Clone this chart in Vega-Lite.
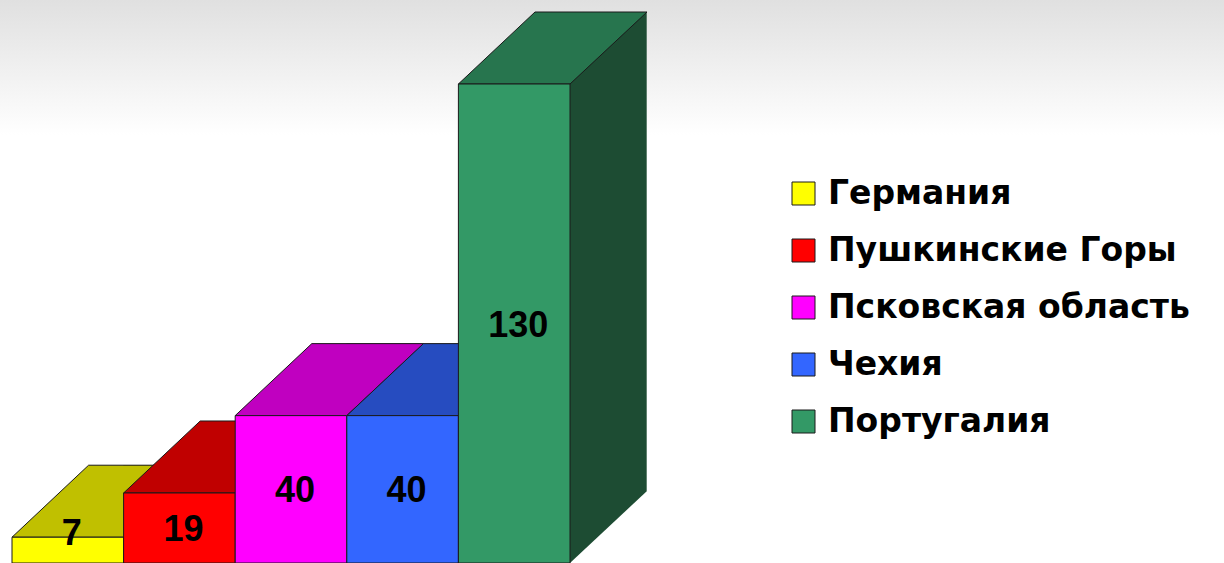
{
  "$schema": "https://vega.github.io/schema/vega-lite/v6.json",
  "width": 1224,
  "height": 563,
  "padding": 0,
  "autosize": {"type": "none"},
  "background": "white",
  "config": {"view": {"stroke": null}},
  "datasets": {
    "bars": [
      {"country": "Германия", "value": 7},
      {"country": "Пушкинские Горы", "value": 19},
      {"country": "Псковская область", "value": 40},
      {"country": "Чехия", "value": 40},
      {"country": "Португалия", "value": 130}
    ]
  },
  "data": {"name": "bars"},
  "resolve": {"scale": {"color": "independent"}},
  "layer": [
    {
      "data": {"values": [{}]},
      "mark": {
        "type": "rect",
        "color": {
          "gradient": "linear", "x1": 0, "y1": 0, "x2": 0, "y2": 1,
          "stops": [
            {"offset": 0, "color": "#e0e0e0"},
            {"offset": 0.24, "color": "#ffffff"},
            {"offset": 1, "color": "#ffffff"}
          ]
        }
      },
      "encoding": {}
    },
    {
      "mark": {"type": "bar", "width": 77, "xOffset": 94, "yOffset": -72, "y2Offset": -72},
      "encoding": {
        "x": {"field": "country", "type": "nominal", "sort": null, "scale": {"range": [12, 570], "paddingInner": 0, "paddingOuter": 0}, "axis": null},
        "y": {"field": "value", "type": "quantitative", "scale": {"domain": [0, 152.8], "nice": false}, "axis": null},
        "y2": {"datum": 0},
        "color": {"field": "country", "type": "nominal", "scale": {"domain": ["Германия", "Пушкинские Горы", "Псковская область", "Чехия", "Португалия"], "range": ["#808000", "#800000", "#800080", "#1A3380", "#1D4C33"]}, "legend": null}
      }
    },
    {
      "mark": {"type": "point", "filled": true, "opacity": 1, "size": 40000, "shape": "M0.558,-0.72 L0.558,0 L1.328,-0.72 Z", "strokeWidth": 0},
      "encoding": {
        "x": {"field": "country", "type": "nominal", "sort": null, "scale": {"range": [12, 570], "paddingInner": 0, "paddingOuter": 0}, "axis": null},
        "y": {"datum": 0, "type": "quantitative", "scale": {"domain": [0, 152.8], "nice": false}, "axis": null},
        "color": {"field": "country", "type": "nominal", "scale": {"domain": ["Германия", "Пушкинские Горы", "Псковская область", "Чехия", "Португалия"], "range": ["#808000", "#800000", "#800080", "#1A3380", "#1D4C33"]}, "legend": null}
      }
    },
    {
      "mark": {"type": "point", "filled": true, "opacity": 1, "size": 40000, "shape": "M-0.558,0 L0.558,0 L1.328,-0.72 L0.208,-0.72 Z", "stroke": "#1a1a1a", "strokeWidth": 1},
      "encoding": {
        "x": {"field": "country", "type": "nominal", "sort": null, "scale": {"range": [12, 570], "paddingInner": 0, "paddingOuter": 0}, "axis": null},
        "y": {"field": "value", "type": "quantitative", "scale": {"domain": [0, 152.8], "nice": false}, "axis": null},
        "color": {"field": "country", "type": "nominal", "scale": {"domain": ["Германия", "Пушкинские Горы", "Псковская область", "Чехия", "Португалия"], "range": ["#C0C000", "#C00000", "#C000C0", "#264CC0", "#27754E"]}, "legend": null}
      }
    },
    {
      "mark": {"type": "bar", "stroke": "#1a1a1a", "strokeWidth": 1},
      "encoding": {
        "x": {"field": "country", "type": "nominal", "sort": null, "scale": {"range": [12, 570], "paddingInner": 0, "paddingOuter": 0}, "axis": null},
        "y": {"field": "value", "type": "quantitative", "scale": {"domain": [0, 152.8], "nice": false}, "axis": null},
        "color": {
          "field": "country", "type": "nominal",
          "scale": {"domain": ["Германия", "Пушкинские Горы", "Псковская область", "Чехия", "Португалия"], "range": ["#FFFF00", "#FF0000", "#FF00FF", "#3366FF", "#339966"]},
          "legend": {
            "title": null, "orient": "none", "legendX": 787, "legendY": 177,
            "symbolType": "square", "symbolSize": 529, "symbolStrokeColor": "#1a1a1a", "symbolStrokeWidth": 1,
            "labelFont": "DejaVu Sans", "labelFontSize": 33, "labelFontWeight": "bold", "labelColor": "#000000",
            "labelOffset": 8, "labelLimit": 600, "rowPadding": 23
          }
        }
      }
    },
    {
      "transform": [{"calculate": "max(datum.value / 2, 8.3)", "as": "labelY"}],
      "mark": {"type": "text", "font": "Liberation Sans", "fontSize": 36, "fontWeight": "bold", "color": "#000000", "baseline": "middle", "align": "center", "xOffset": 4, "yOffset": 2},
      "encoding": {
        "x": {"field": "country", "type": "nominal", "sort": null, "scale": {"range": [12, 570], "paddingInner": 0, "paddingOuter": 0}, "axis": null},
        "y": {"field": "labelY", "type": "quantitative", "scale": {"domain": [0, 152.8], "nice": false}, "axis": null},
        "text": {"field": "value", "type": "quantitative"}
      }
    }
  ]
}
